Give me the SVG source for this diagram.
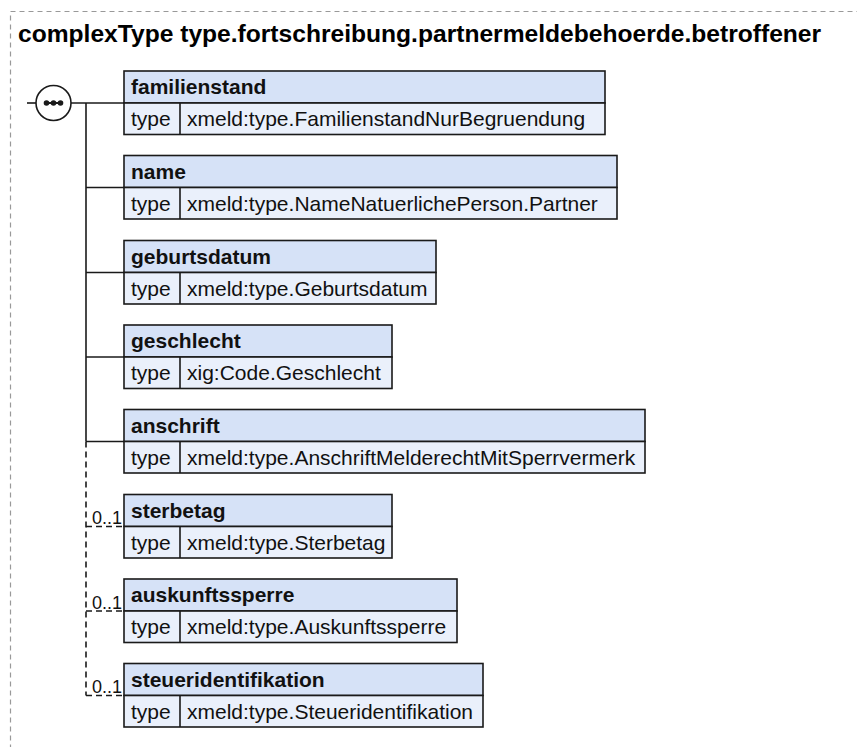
<svg xmlns="http://www.w3.org/2000/svg" width="857" height="747" viewBox="0 0 857 747">
<style>
.hd{fill:#d6e2f7;stroke:#1a1a1a;stroke-width:1.6}
.rw{fill:#eaf0fb;stroke:#1a1a1a;stroke-width:1.6}
.ht{font-family:"Liberation Sans",Arial,sans-serif;font-weight:bold;font-size:21px;fill:#111}
.tt{font-family:"Liberation Sans",Arial,sans-serif;font-size:21px;fill:#111}
.ml{font-family:"Liberation Sans",Arial,sans-serif;font-size:18px;fill:#111}
.title{font-family:"Liberation Sans",Arial,sans-serif;font-weight:bold;font-size:24.6px;fill:#000}
.sl{stroke:#1a1a1a;stroke-width:1.6;fill:none}
.dl{stroke:#1a1a1a;stroke-width:1.6;fill:none;stroke-dasharray:6,4}
</style>
<rect x="10.5" y="11.5" width="860" height="760" fill="none" stroke="#999" stroke-width="1.2" stroke-dasharray="5,4"/>
<text class="title" x="18" y="42">complexType type.fortschreibung.partnermeldebehoerde.betroffener</text>
<g id="connectors">
<line class="sl" x1="27" y1="103" x2="36" y2="103"/>
<line class="sl" x1="71" y1="103" x2="124" y2="103"/>
<line class="sl" x1="86" y1="103" x2="86" y2="441.5"/>
<line class="sl" x1="86" y1="187.5" x2="124" y2="187.5"/>
<line class="sl" x1="86" y1="272.5" x2="124" y2="272.5"/>
<line class="sl" x1="86" y1="357" x2="124" y2="357"/>
<line class="sl" x1="86" y1="441.5" x2="124" y2="441.5"/>
<path class="dl" d="M86 441.5 V695.5"/>
<path class="dl" d="M86 526.5 H124"/>
<path class="dl" d="M86 611 H124"/>
<path class="dl" d="M86 695.5 H124"/>
<text class="ml" x="92" y="524">0..1</text>
<text class="ml" x="92" y="609">0..1</text>
<text class="ml" x="92" y="693">0..1</text>
</g>
<g id="sequence">
<circle cx="53.5" cy="103" r="17.5" fill="#fff" stroke="#1a1a1a" stroke-width="1.6"/>
<line x1="44" y1="103" x2="63" y2="103" stroke="#1a1a1a" stroke-width="2"/>
<circle cx="46.5" cy="103" r="2.8" fill="#1a1a1a"/>
<circle cx="53.5" cy="103" r="2.8" fill="#1a1a1a"/>
<circle cx="60.5" cy="103" r="2.8" fill="#1a1a1a"/>
</g>
<g id="familienstand">
<rect class="hd" x="124" y="71" width="481" height="32"/>
<rect class="rw" x="124" y="103" width="481" height="31.5"/>
<line class="sl" x1="180" y1="103" x2="180" y2="134.5"/>
<text class="ht" x="131" y="94">familienstand</text>
<text class="tt" x="131" y="126">type</text>
<text class="tt" x="187" y="126">xmeld:type.FamilienstandNurBegruendung</text>
</g>
<g id="name">
<rect class="hd" x="124" y="155.5" width="493" height="32"/>
<rect class="rw" x="124" y="187.5" width="493" height="31.5"/>
<line class="sl" x1="180" y1="187.5" x2="180" y2="219"/>
<text class="ht" x="131" y="178.5">name</text>
<text class="tt" x="131" y="210.5">type</text>
<text class="tt" x="187" y="210.5">xmeld:type.NameNatuerlichePerson.Partner</text>
</g>
<g id="geburtsdatum">
<rect class="hd" x="124" y="240.5" width="312" height="32"/>
<rect class="rw" x="124" y="272.5" width="312" height="31.5"/>
<line class="sl" x1="180" y1="272.5" x2="180" y2="304"/>
<text class="ht" x="131" y="263.5">geburtsdatum</text>
<text class="tt" x="131" y="295.5">type</text>
<text class="tt" x="187" y="295.5">xmeld:type.Geburtsdatum</text>
</g>
<g id="geschlecht">
<rect class="hd" x="124" y="325" width="268" height="32"/>
<rect class="rw" x="124" y="357" width="268" height="31.5"/>
<line class="sl" x1="180" y1="357" x2="180" y2="388.5"/>
<text class="ht" x="131" y="348">geschlecht</text>
<text class="tt" x="131" y="380">type</text>
<text class="tt" x="187" y="380">xig:Code.Geschlecht</text>
</g>
<g id="anschrift">
<rect class="hd" x="124" y="409.5" width="521" height="32"/>
<rect class="rw" x="124" y="441.5" width="521" height="31.5"/>
<line class="sl" x1="180" y1="441.5" x2="180" y2="473"/>
<text class="ht" x="131" y="432.5">anschrift</text>
<text class="tt" x="131" y="464.5">type</text>
<text class="tt" x="187" y="464.5">xmeld:type.AnschriftMelderechtMitSperrvermerk</text>
</g>
<g id="sterbetag">
<rect class="hd" x="124" y="494.5" width="268" height="32"/>
<rect class="rw" x="124" y="526.5" width="268" height="31.5"/>
<line class="sl" x1="180" y1="526.5" x2="180" y2="558"/>
<text class="ht" x="131" y="517.5">sterbetag</text>
<text class="tt" x="131" y="549.5">type</text>
<text class="tt" x="187" y="549.5">xmeld:type.Sterbetag</text>
</g>
<g id="auskunftssperre">
<rect class="hd" x="124" y="579" width="333" height="32"/>
<rect class="rw" x="124" y="611" width="333" height="31.5"/>
<line class="sl" x1="180" y1="611" x2="180" y2="642.5"/>
<text class="ht" x="131" y="602">auskunftssperre</text>
<text class="tt" x="131" y="634">type</text>
<text class="tt" x="187" y="634">xmeld:type.Auskunftssperre</text>
</g>
<g id="steueridentifikation">
<rect class="hd" x="124" y="663.5" width="359" height="32"/>
<rect class="rw" x="124" y="695.5" width="359" height="31.5"/>
<line class="sl" x1="180" y1="695.5" x2="180" y2="727"/>
<text class="ht" x="131" y="686.5">steueridentifikation</text>
<text class="tt" x="131" y="718.5">type</text>
<text class="tt" x="187" y="718.5">xmeld:type.Steueridentifikation</text>
</g>
</svg>
